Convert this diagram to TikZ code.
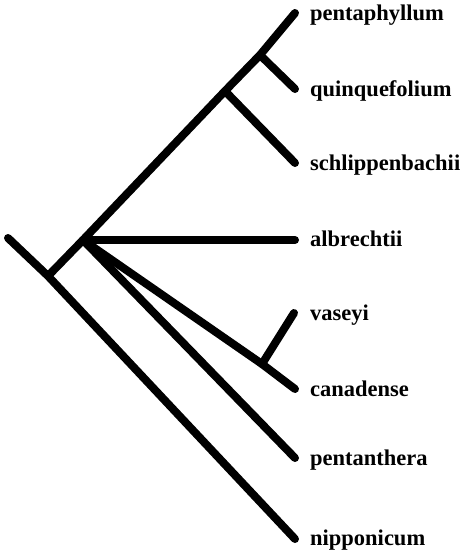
\documentclass[tikz,border=0pt]{standalone}
\usepackage{fontspec}
\setmainfont{Liberation Serif}
\begin{document}
\begin{tikzpicture}[x=1pt,y=-1pt,
  branch/.style={line width=8pt, line cap=round, line join=round},
  taxon/.style={anchor=base west, inner sep=0pt, font=\fontsize{22.5}{26}\selectfont\bfseries}]
\useasboundingbox (0,0) rectangle (464,554);

% internal nodes of the tree
\coordinate (rootL) at (8,238);
\coordinate (root)  at (48,276);
\coordinate (nA)    at (83,240);
\coordinate (nS)    at (225,91);
\coordinate (nQ)    at (260,55);
\coordinate (nV)    at (262,364);

% leaf tips
\coordinate (tPenta)  at (295,13);
\coordinate (tQuin)   at (295,89);
\coordinate (tSchl)   at (295,163);
\coordinate (tAlb)    at (295,240);
\coordinate (tVas)    at (294,313);
\coordinate (tCan)    at (295,389);
\coordinate (tPent)   at (295,458);
\coordinate (tNip)    at (295,539);

% taxon labels, baselines just below the branch tips
\node[taxon] (lPenta) at (310,20)  {pentaphyllum};
\node[taxon] (lQuin)  at (310,96)  {quinquefolium};
\node[taxon] (lSchl)  at (310,170) {schlippenbachii};
\node[taxon] (lAlb)   at (310,246) {albrechtii};
\node[taxon] (lVas)   at (310,320) {vaseyi};
\node[taxon] (lCan)   at (310,396) {canadense};
\node[taxon] (lPent)  at (310,465) {pentanthera};
\node[taxon] (lNip)   at (310,545) {nipponicum};

% branches
\draw[branch] (rootL) -- (root) -- (tNip);
\draw[branch] (root) -- (nA) -- (nS) -- (nQ) -- (tPenta);
\draw[branch] (nQ) -- (tQuin);
\draw[branch] (nS) -- (tSchl);
\draw[branch] (nA) -- (tAlb);
\draw[branch] (nA) -- (nV) -- (tCan);
\draw[branch] (nV) -- (tVas);
\draw[branch] (nA) -- (tPent);
\end{tikzpicture}
\end{document}
